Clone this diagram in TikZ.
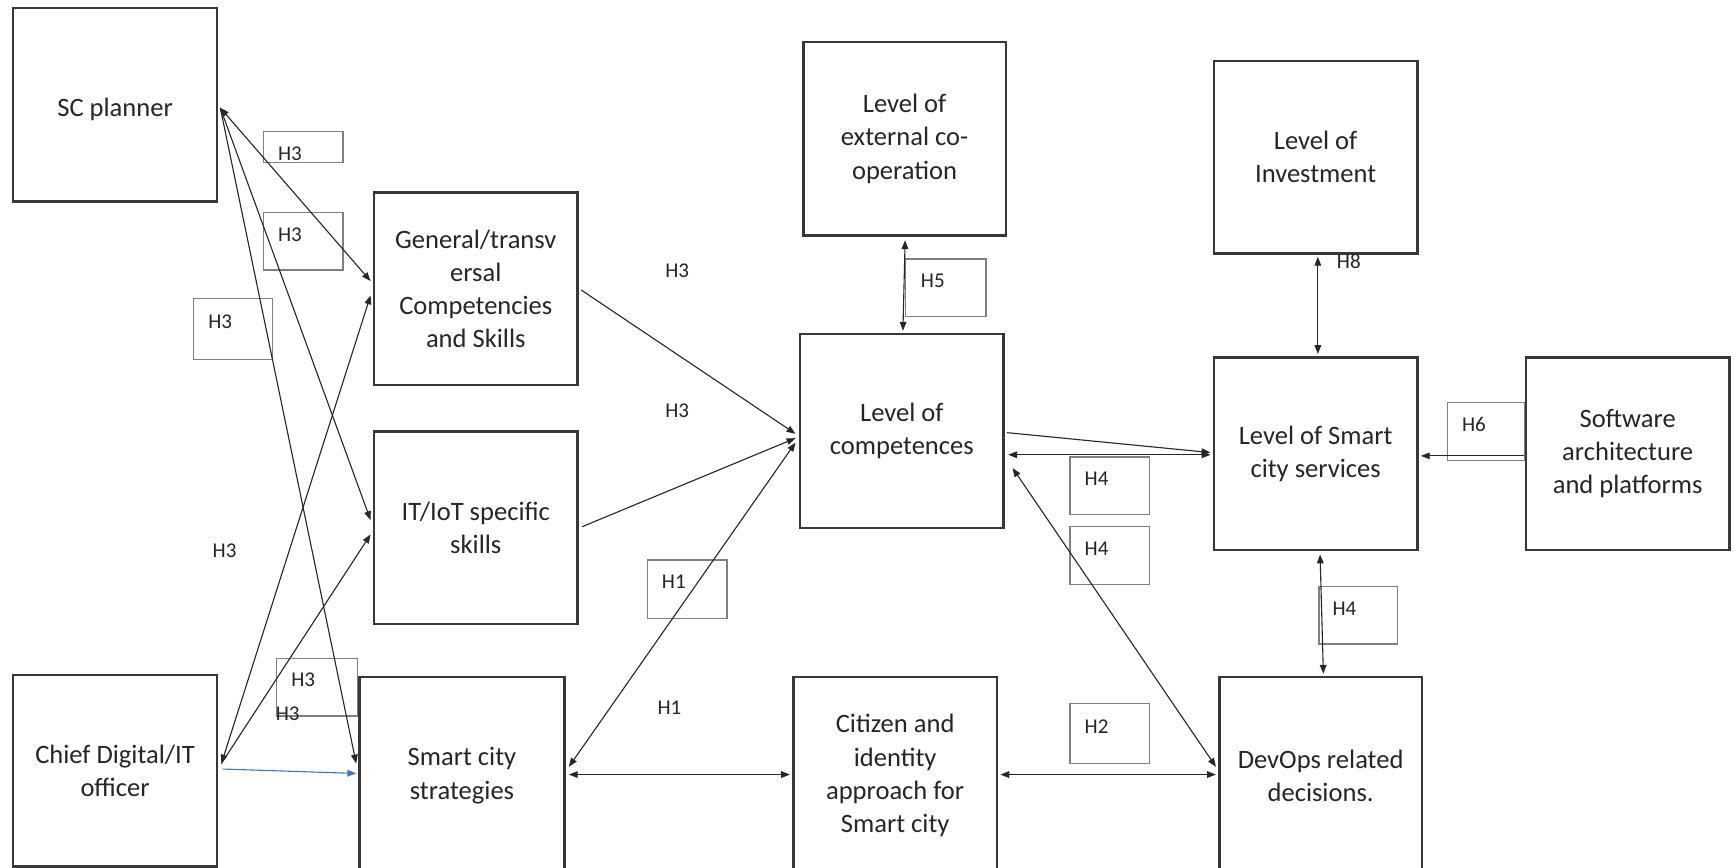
\documentclass[tikz,border=0pt]{standalone}
\usepackage{fontspec}
\setmainfont{Carlito}
\usetikzlibrary{arrows.meta,calc}
\begin{document}
\begin{tikzpicture}[x=1pt,y=-1pt,
  mainbox/.style={draw=black!78, line width=2.2pt, minimum width=184pt, minimum height=175pt, inner sep=0pt, align=center, font=\fontsize{24}{30}\selectfont, text=black!85, execute at begin node={\rule{0pt}{26pt}}},
  hbox/.style={draw=black!50, line width=1.1pt, inner sep=0pt, fill=none},
  htext/.style={font=\fontsize{19}{22}\selectfont, text=black!85, inner sep=0pt},
  conn/.style={draw=black!85, line width=1pt},
  onehead/.style={conn, -{Triangle[length=8pt,width=6pt]}},
  twohead/.style={conn, {Triangle[length=8pt,width=6pt]}-{Triangle[length=8pt,width=6pt]}},
  bluearrow/.style={draw={rgb,255:red,68;green,114;blue,196}, line width=1pt, -{Triangle[length=8pt,width=6pt]}},
]
\useasboundingbox (0,0) rectangle (1568,784);
\fill[white] (0,0) rectangle (1568,784);
\clip (0,0) rectangle (1568,784);

% main boxes
\node[mainbox] (sc) at (104,94.5) {SC planner};
\node[mainbox, minimum height=174pt] (gen) at (430,261) {General/transv\\ersal\\Competencies\\and Skills};
\node[mainbox, minimum height=174pt] (iot) at (430,477) {IT/IoT specific\\skills};
\node[mainbox, minimum height=173pt] (chief) at (104,696.5) {Chief Digital/IT\\officer};
\node[mainbox, minimum width=185pt, minimum height=178pt] (strat) at (417.5,701) {Smart city\\strategies};
\node[mainbox, minimum width=183pt] (ext) at (817.5,125.5) {Level of\\external co-\\operation};
\node[mainbox] (comp) at (815,389.5) {Level of\\competences};
\node[mainbox, minimum height=174pt] (inv) at (1189,142) {Level of\\Investment};
\node[mainbox, minimum height=174pt] (serv) at (1189,410) {Level of Smart\\city services};
\node[mainbox, minimum height=174pt] (soft) at (1471,410) {Software\\architecture\\and platforms};
\node[mainbox, minimum height=178pt] (cit) at (809,701) {Citizen and\\identity\\approach for\\Smart city};
\node[mainbox, minimum width=183pt, minimum height=178pt] (dev) at (1193.5,701) {DevOps related\\decisions.};

% label boxes
\node[hbox, minimum width=72pt, minimum height=28pt] (b1) at (274,133) {};
\node[hbox, minimum width=72pt, minimum height=52pt] (b2) at (274,218) {};
\node[hbox, minimum width=71pt, minimum height=55pt] (b3) at (210.5,297.5) {};
\node[hbox, minimum width=73pt, minimum height=52pt] (b4) at (286.5,621) {};
\node[hbox, minimum width=73pt, minimum height=52pt] (b5) at (854.5,260) {};
\node[hbox, minimum width=70pt, minimum height=52pt] (b6) at (1343,390) {};
\node[hbox, minimum width=72pt, minimum height=52pt] (b7) at (1003,439) {};
\node[hbox, minimum width=72pt, minimum height=52pt] (b8) at (1003,502) {};
\node[hbox, minimum width=71pt, minimum height=52pt] (b9) at (1227.5,556) {};
\node[hbox, minimum width=72pt, minimum height=53pt] (b10) at (621,532.5) {};
\node[hbox, minimum width=72pt, minimum height=54pt] (b11) at (1003,663) {};

% label texts
\node[htext] (t1) at (262,139) {H3};
\node[htext] (t2) at (262,212) {H3};
\node[htext] (t3) at (199,291) {H3};
\node[htext] (t4) at (203,498) {H3};
\node[htext] (t5) at (274,614) {H3};
\node[htext] (t6) at (260,645) {H3};
\node[htext] (t7) at (612,245) {H3};
\node[htext] (t8) at (612,371) {H3};
\node[htext] (t9) at (843,254) {H5};
\node[htext] (t10) at (1219,236) {H8};
\node[htext] (t11) at (1332,384) {H6};
\node[htext] (t12) at (991,433) {H4};
\node[htext] (t13) at (991,496) {H4};
\node[htext] (t14) at (1215,550) {H4};
\node[htext] (t15) at (609,526) {H1};
\node[htext] (t16) at (605,640) {H1};
\node[htext] (t17) at (991,657) {H2};

% connectors
\draw[twohead] ($(sc.east)+(2,3)$) -- ($(gen.west)+(-2,-7)$);
\draw[onehead] ($(sc.east)+(2,3)$) -- ($(iot.west)+(-2,-7)$);
\draw[onehead] ($(sc.east)+(2,3)$) -- ($(strat.west)+(-2,-11)$);
\draw[twohead] ($(chief.east)+(3,-6.5)$) -- ($(gen.west)+(-2,6)$);
\draw[onehead] ($(chief.east)+(3,-6.5)$) -- ($(iot.west)+(-2,6)$);
\draw[bluearrow] ($(chief.east)+(4,-1.5)$) -- ($(strat.west)+(-2,-2)$);
\draw[onehead] ($(gen.east)+(2,1)$) -- ($(comp.west)+(-3,2.5)$);
\draw[onehead] ($(iot.east)+(3,-1)$) -- ($(comp.west)+(-3,6.5)$);
\draw[twohead] ($(strat.east)+(3,-8)$) -- ($(comp.west)+(-3,10.5)$);
\draw[twohead] ($(ext.south)+(0.5,3)$) -- ($(comp.north)+(1,-2)$);
\draw[onehead] ($(comp.east)+(2,1.5)$) -- ($(serv.west)+(-2,-1)$);
\draw[twohead] ($(comp.east)+(3,21.5)$) -- ($(serv.west)+(-2,1)$);
\draw[twohead] ($(dev.west)+(-2,-8)$) -- ($(comp.east)+(7,33.5)$);
\draw[twohead] ($(inv.south)+(2,2)$) -- ($(serv.north)+(2,-2)$);
\draw[onehead] ($(soft.west)+(-1,2)$) -- ($(serv.east)+(2,2)$);
\draw[twohead] ($(strat.east)+(3,-1)$) -- ($(cit.west)+(-2,-1)$);
\draw[twohead] ($(cit.east)+(2,-1)$) -- ($(dev.west)+(-2,-1)$);
\draw[twohead] ($(serv.south)+(4,3)$) -- ($(dev.north)+(2.5,-2)$);
\end{tikzpicture}
\end{document}
